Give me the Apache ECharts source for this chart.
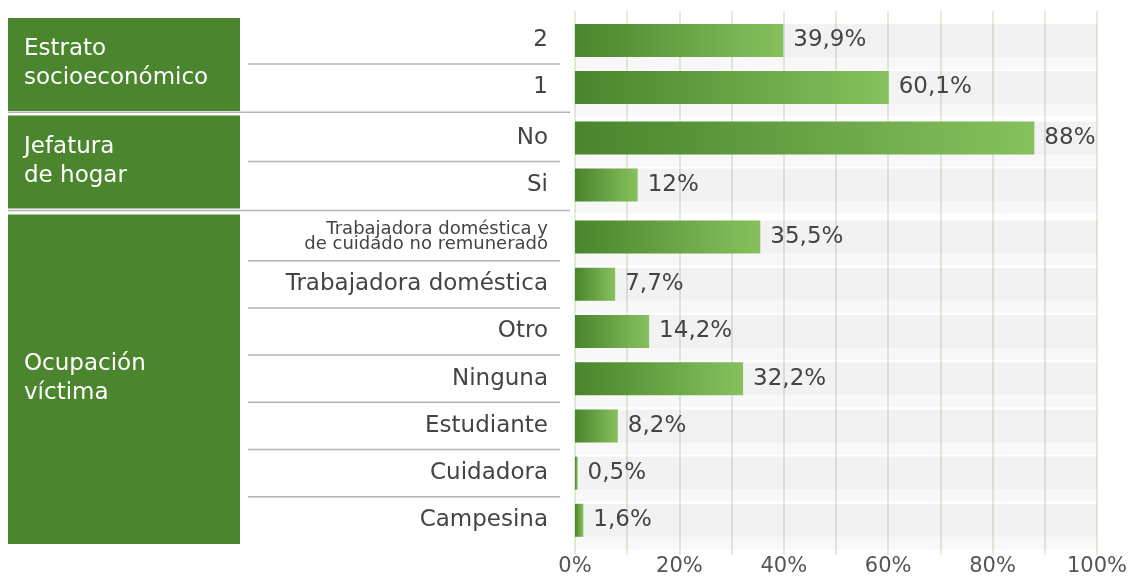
<!DOCTYPE html>
<html style="height: 100%">
<head>
    <meta charset="utf-8">
</head>
<body style="height: 100%; margin: 0">
<div id="container" style="width: 1132px; height: 586px;"></div>
<script type="text/javascript" src="https://cdn.jsdelivr.net/npm/echarts/dist/echarts.min.js"></script>
<script type="text/javascript">
// data
var groupNames = ['Estrato\nsocioeconómico', 'Jefatura\nde hogar', 'Ocupación\nvíctima'];
var estratoCats = ['2', '1'];
var estratoVals = [39.9, 60.1];
var jefaturaCats = ['No', 'Si'];
var jefaturaVals = [88, 12];
var ocupacionCats = ['Trabajadora doméstica y\nde cuidado no remunerado', 'Trabajadora doméstica', 'Otro',
    'Ninguna', 'Estudiante', 'Cuidadora', 'Campesina'];
var ocupacionVals = [35.5, 7.7, 14.2, 32.2, 8.2, 0.5, 1.6];
var xTickLabels = [0, 20, 40, 60, 80, 100];

var font = 'DejaVu Sans';
var textColor = '#444';
var boxColor = '#4b862f';
var gridLineColor = '#dfeed9';
var gridLeft = 575, gridRight = 35;

var groups = [
    {name: groupNames[0], cats: estratoCats, vals: estratoVals, top: 17, rowH: 47},
    {name: groupNames[1], cats: jefaturaCats, vals: jefaturaVals, top: 114.5, rowH: 47},
    {name: groupNames[2], cats: ocupacionCats, vals: ocupacionVals, top: 213.5, rowH: 47.2}
];

function pct(v) {
    return String(v).replace('.', ',') + '%';
}

var dom = document.getElementById('container');
var myChart = echarts.init(dom);

var grid = [], xAxis = [], yAxis = [], series = [], graphic = [];
var tickLens = [4, 5, 11];

groups.forEach(function (g, i) {
    var h = g.rowH * g.cats.length;
    grid.push({left: gridLeft, right: gridRight, top: g.top, height: h});
    xAxis.push({
        gridIndex: i, type: 'value', min: 0, max: 100, interval: 10,
        axisLine: {show: false},
        axisTick: {show: true, length: tickLens[i], lineStyle: {color: gridLineColor, width: 2}},
        splitLine: {show: true, lineStyle: {color: gridLineColor, width: 2}},
        axisLabel: {
            show: i === 2, margin: 12, fontFamily: font, fontSize: 21, color: '#555',
            formatter: function (v) {
                return xTickLabels.indexOf(v) >= 0 ? v + '%' : '';
            }
        }
    });
    yAxis.push({
        gridIndex: i, type: 'category', inverse: true, data: g.cats,
        axisLine: {show: false}, axisTick: {show: false},
        axisLabel: {
            margin: 27, fontFamily: font, fontSize: 23, color: textColor,
            formatter: function (v) {
                if (v.indexOf('\n') < 0) return v;
                return v.split('\n').map(function (s) { return '{s|' + s + '}'; }).join('\n');
            },
            rich: {s: {fontFamily: font, fontSize: 18, lineHeight: 15, color: textColor, align: 'right'}}
        }
    });
    // outer light band behind each row
    series.push({
        type: 'bar', xAxisIndex: i, yAxisIndex: i, data: g.vals,
        barWidth: 45, barGap: '-100%', silent: true,
        itemStyle: {color: 'rgba(0,0,0,0)'},
        showBackground: true,
        backgroundStyle: {color: 'rgba(0,0,0,0.028)'}
    });
    series.push({
        type: 'bar', xAxisIndex: i, yAxisIndex: i, data: g.vals,
        barWidth: 33, barGap: '-100%',
        itemStyle: {
            color: new echarts.graphic.LinearGradient(0, 0, 1, 0, [
                {offset: 0, color: '#4a842c'},
                {offset: 1, color: '#87c15e'}
            ])
        },
        showBackground: true,
        backgroundStyle: {color: 'rgba(0,0,0,0.026)'},
        label: {
            show: true, position: 'right', distance: 10,
            fontFamily: font, fontSize: 23, color: textColor,
            formatter: function (p) { return pct(p.value); }
        }
    });

    // group box
    graphic.push({
        type: 'rect', left: 8, top: g.top + 1,
        shape: {width: 232, height: h - 1},
        style: {fill: boxColor}, silent: true
    });
    graphic.push({
        type: 'text', left: 24, top: g.top + h / 2 - 29,
        style: {text: g.name, fill: '#fff', font: '23px "DejaVu Sans"', lineHeight: 29}, silent: true
    });
    // separators inside the group
    for (var k = 1; k < g.cats.length; k++) {
        var y = g.top + k * g.rowH;
        graphic.push({
            type: 'line', silent: true,
            shape: {x1: 248, y1: y, x2: 560, y2: y},
            style: {stroke: '#b4b4b4', lineWidth: 1.5}
        });
    }
    // separator between groups
    if (i > 0) {
        var prev = groups[i - 1];
        var yb = (prev.top + prev.rowH * prev.cats.length + g.top) / 2 - 0.5;
        graphic.push({
            type: 'line', silent: true,
            shape: {x1: 8, y1: yb, x2: 570, y2: yb},
            style: {stroke: '#b4b4b4', lineWidth: 1.5}
        });
    }
});

// extra top axis on the first grid so the grid lines run a bit above the rows
xAxis.push({
    gridIndex: 0, type: 'value', position: 'top', min: 0, max: 100, interval: 10,
    axisLine: {show: false}, axisLabel: {show: false}, splitLine: {show: false},
    axisTick: {show: true, length: 6, lineStyle: {color: gridLineColor, width: 2}}
});

var option = {
    animation: false,
    grid: grid,
    xAxis: xAxis,
    yAxis: yAxis,
    series: series,
    graphic: {elements: graphic}
};

myChart.setOption(option);
</script>
</body>
</html>
